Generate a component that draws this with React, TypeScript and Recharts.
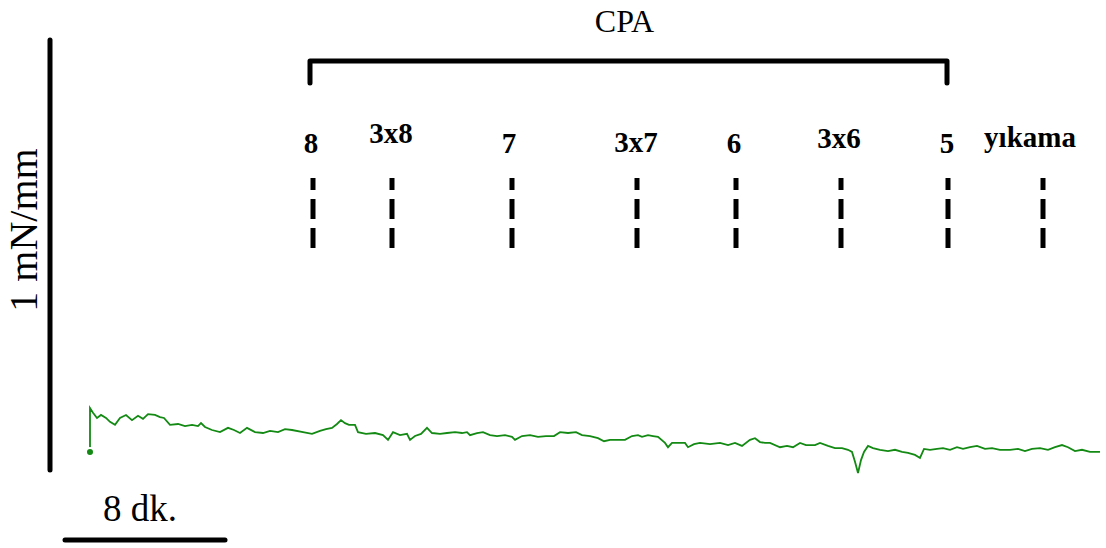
import { LineChart, Line, XAxis, YAxis, ReferenceLine, ReferenceDot } from "recharts";

// isometric tension trace, time in minutes (dk.), tension in mN/mm
const TIME = [
  0, 0, 0.15, 0.35, 0.55, 0.8, 1.0, 1.25, 1.5, 1.8, 2.1, 2.4, 2.65, 2.9, 3.25, 3.5, 3.7, 4.0, 4.4, 4.75,
  5.1, 5.4, 5.55, 5.75, 6.1, 6.5, 6.9, 7.2, 7.5, 7.85, 8.25, 8.65, 9.0, 9.4, 9.75, 10.1, 10.65, 11.1, 11.5, 11.8,
  12.1, 12.35, 12.55, 12.75, 12.95, 13.25, 13.4, 13.8, 14.25, 14.65, 14.9, 15.15, 15.5, 15.85, 16.0, 16.25, 16.55, 16.85, 17.1, 17.5,
  17.85, 18.25, 18.6, 18.85, 19.0, 19.35, 19.65, 20.0, 20.35, 20.75, 21.1, 21.25, 21.6, 22.0, 22.4, 22.8, 23.2, 23.5, 23.9, 24.3,
  24.6, 25.0, 25.4, 25.7, 26.0, 26.4, 26.75, 27.1, 27.4, 27.6, 27.9, 28.15, 28.4, 28.75, 28.9, 29.1, 29.4, 29.75, 29.9, 30.2,
  30.5, 31.0, 31.5, 31.9, 32.25, 32.6, 33.0, 33.25, 33.5, 33.75, 34.0, 34.5, 34.85, 35.15, 35.5, 35.8, 36.25, 36.5, 36.9, 37.25,
  37.6, 37.9, 38.1, 38.25, 38.4, 38.55, 38.7, 38.9, 39.15, 39.5, 39.9, 40.25, 40.6, 40.9, 41.25, 41.5, 41.7, 42.0, 42.35, 42.65,
  43.0, 43.35, 43.65, 44.0, 44.35, 44.75, 45.1, 45.5, 46.0, 46.4, 46.75, 47.1, 47.5, 47.9, 48.25, 48.6, 48.9, 49.25, 49.6, 50.0,
  50.5,
];
const TENSION = [
  0.042, 0.144, 0.133, 0.121, 0.128, 0.121, 0.112, 0.105, 0.121, 0.128, 0.116, 0.126, 0.119, 0.13, 0.128, 0.123, 0.121, 0.105, 0.107, 0.102,
  0.105, 0.102, 0.109, 0.1, 0.093, 0.088, 0.098, 0.093, 0.086, 0.098, 0.088, 0.086, 0.091, 0.088, 0.095, 0.093, 0.088, 0.084, 0.091, 0.095,
  0.098, 0.107, 0.116, 0.109, 0.105, 0.105, 0.088, 0.084, 0.086, 0.081, 0.07, 0.088, 0.081, 0.084, 0.07, 0.079, 0.084, 0.098, 0.086, 0.084,
  0.086, 0.088, 0.086, 0.088, 0.081, 0.086, 0.088, 0.081, 0.079, 0.081, 0.077, 0.07, 0.079, 0.081, 0.077, 0.079, 0.079, 0.088, 0.086, 0.088,
  0.081, 0.079, 0.074, 0.067, 0.07, 0.07, 0.07, 0.079, 0.081, 0.077, 0.081, 0.079, 0.077, 0.063, 0.053, 0.063, 0.063, 0.063, 0.053, 0.06,
  0.063, 0.06, 0.063, 0.058, 0.063, 0.056, 0.07, 0.074, 0.065, 0.063, 0.063, 0.053, 0.056, 0.053, 0.063, 0.058, 0.058, 0.063, 0.056, 0.051,
  0.051, 0.047, 0.042, 0.019, -0.007, 0.023, 0.042, 0.056, 0.051, 0.047, 0.044, 0.047, 0.042, 0.04, 0.035, 0.028, 0.049, 0.047, 0.049, 0.051,
  0.047, 0.053, 0.049, 0.053, 0.056, 0.049, 0.051, 0.047, 0.047, 0.049, 0.044, 0.049, 0.051, 0.047, 0.053, 0.058, 0.053, 0.044, 0.047, 0.042,
  0.042,
];

// drug additions (CPA doses, log units) and wash
const MARKER_LABELS = ["8", "3x8", "7", "3x7", "6", "3x6", "5", "yıkama"];
const MARKER_TIMES = [11.15, 15.1, 21.1, 27.35, 32.3, 37.55, 42.9, 47.65];
const LABEL_TIMES = [11.05, 15.05, 20.95, 27.3, 32.2, 37.45, 42.85, 47.0];
const LABEL_LEVELS = [0.76, 0.784, 0.76, 0.763, 0.76, 0.772, 0.76, 0.774];
const MARKER_RANGE = [0.516, 0.679];

const CPA_START = 11.0;
const CPA_END = 42.85;
const CPA_LEVEL = 0.951;
const CPA_TICK = 0.9;

// scale bars: 1 mN/mm, 8 dk.
const SCALE_TENSION = 1;
const SCALE_TIME = 8;

const FONT = "'Liberation Serif', 'Times New Roman', serif";
const W = 1106;
const H = 548;

const trace = TIME.map((t, i) => ({ t, v: TENSION[i] }));
const bracket = [
  { t: CPA_START, v: CPA_TICK },
  { t: CPA_START, v: CPA_LEVEL },
  { t: CPA_END, v: CPA_LEVEL },
  { t: CPA_END, v: CPA_TICK },
];

export default function App() {
  const barX = -2.0;
  const barY = -0.163;
  const hStart = -1.25;
  return (
    <div style={{ position: "absolute", left: 0, top: 0, width: W, height: H, background: "#fff" }}>
      <LineChart width={W} height={H} margin={{ top: 0, right: 0, bottom: 0, left: 0 }}>
        <XAxis dataKey="t" type="number" domain={[-4.5, 50.8]} allowDataOverflow hide />
        <YAxis type="number" domain={[-0.1814, 1.093]} allowDataOverflow hide />

        <ReferenceLine
          segment={[{ x: barX, y: 0 }, { x: barX, y: SCALE_TENSION }]}
          stroke="#000"
          strokeWidth={5}
          strokeLinecap="round"
        />
        <ReferenceLine
          segment={[{ x: hStart, y: barY }, { x: hStart + SCALE_TIME, y: barY }]}
          stroke="#000"
          strokeWidth={5}
          strokeLinecap="round"
        />
        <ReferenceDot
          x={-3.35}
          y={0.558}
          r={0}
          fill="none"
          stroke="none"
          label={{ value: "1 mN/mm", position: "center", angle: -90, fill: "#000", fontSize: 40, fontFamily: FONT }}
        />
        <ReferenceDot
          x={2.5}
          y={-0.088}
          r={0}
          fill="none"
          stroke="none"
          label={{ value: "8 dk.", position: "center", fill: "#000", fontSize: 37, fontFamily: FONT }}
        />

        <ReferenceDot
          x={(CPA_START + CPA_END) / 2 - 0.2}
          y={1.045}
          r={0}
          fill="none"
          stroke="none"
          label={{ value: "CPA", position: "center", fill: "#000", fontSize: 32, fontFamily: FONT }}
        />

        {MARKER_TIMES.map((t, i) => (
          <ReferenceLine
            key={`m${i}`}
            segment={[{ x: t, y: MARKER_RANGE[0] }, { x: t, y: MARKER_RANGE[1] }]}
            stroke="#000"
            strokeWidth={5}
            strokeDasharray="20 9"
          />
        ))}
        {MARKER_LABELS.map((lab, i) => (
          <ReferenceDot
            key={`l${i}`}
            x={LABEL_TIMES[i]}
            y={LABEL_LEVELS[i]}
            r={0}
            fill="none"
            stroke="none"
            label={{ value: lab, position: "center", fill: "#000", fontSize: 29, fontWeight: "bold", fontFamily: FONT }}
          />
        ))}

        <Line
          data={bracket}
          dataKey="v"
          type="linear"
          stroke="#000"
          strokeWidth={5}
          strokeLinejoin="round"
          strokeLinecap="round"
          dot={false}
          isAnimationActive={false}
        />
        <Line
          data={trace}
          dataKey="v"
          type="linear"
          stroke="#138a13"
          strokeWidth={1.8}
          dot={false}
          isAnimationActive={false}
        />
      </LineChart>
    </div>
  );
}
